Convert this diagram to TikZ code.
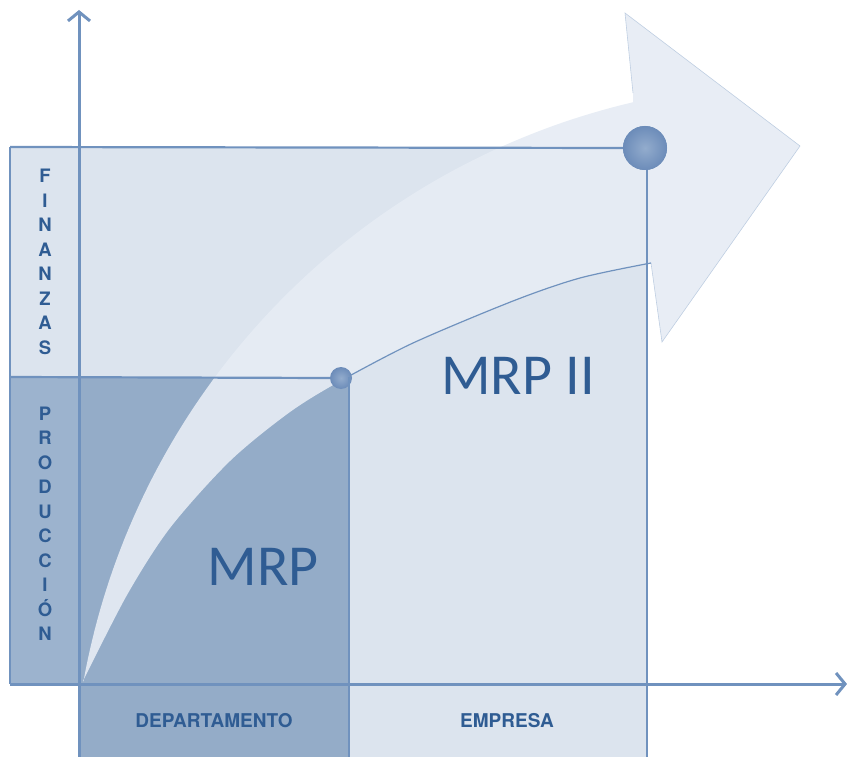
\documentclass[tikz,border=0pt]{standalone}
\usepackage{fontspec}
\newfontfamily\labfont{TeX Gyre Heros}
\newfontfamily\mrpfont{Carlito}
\usetikzlibrary{arrows.meta}
\definecolor{bgl}{HTML}{DCE4EE}
\definecolor{bgd}{HTML}{94ACC8}
\definecolor{bgc}{HTML}{9CB3CE}
\definecolor{ln}{HTML}{7092BE}
\definecolor{txt}{HTML}{2F5C93}
\definecolor{arw}{HTML}{E6ECF4}
\definecolor{dotin}{HTML}{93ACCD}
\definecolor{dotout}{HTML}{6C8CB9}
\begin{document}
\begin{tikzpicture}[x=1pt,y=-1pt,
  axisline/.style={line width=3pt, draw=ln},
  edgeline/.style={line width=2.2pt, draw=ln},
  thinline/.style={line width=1.4pt, draw=ln},
  vlabel/.style={font=\labfont\bfseries\fontsize{18.5}{24.5}\selectfont, text=txt, align=center, inner sep=0pt},
  hlabel/.style={font=\labfont\bfseries\fontsize{19}{22}\selectfont, text=txt, inner sep=0pt},
  biglabel/.style={font=\mrpfont\fontsize{58}{60}\selectfont, text=txt, inner sep=0pt},
  ball/.style={circle, inner sep=0pt, shading=radial, inner color=dotin, outer color=dotout},
]
\useasboundingbox (0,0) rectangle (847,757);
% region fills
\fill[bgl] (10,147) rectangle (647,684);
\fill[bgc] (10,377) rectangle (79,684);
\fill[bgd] (79,377) rectangle (349,684);
\fill[bgd] (79,684) rectangle (349,757);
\fill[bgl] (349,684) rectangle (647,757);
% curved arrow
\fill[arw, fill opacity=0.92]
  plot[smooth, tension=0.5] coordinates {(83,681) (127,595) (170,528) (230,461) (290,412) (342,380) (413,343) (513,301) (580,278) (651,263)}
  -- (662,342) -- (800,146) -- (625,13) -- (633,93)
  -- plot[domain=103.2:169.8, samples=80] ({799+727*cos(\x)},{810-727*sin(\x)})
  -- cycle;
\draw[draw=ln!45, line width=0.6pt] (651,263) -- (662,342) -- (800,146) -- (625,13) -- (633,93);
% lower curve line
\draw[thinline, line width=1.2pt] plot[smooth, tension=0.5] coordinates {(342,380) (413,343) (513,301) (580,278) (651,263)};
% dots
\node[ball, minimum size=22pt] (d1) at (341,378) {};
\node[ball, minimum size=44pt] (d2) at (645,148) {};
\coordinate (tl) at (10,147);
\coordinate (ml) at (10,377);
\coordinate (bl) at (10,684);
\coordinate (xend) at (847,684);
\coordinate (ybot) at (79,757);
\coordinate (ytop) at (79,10);
\coordinate (mrpc) at (349,377);
\coordinate (mrpb) at (349,757);
\coordinate (d2b) at (647,757);
\coordinate (d2t) at (647,160);
% lines
\draw[edgeline] (tl) -- (bl);
\draw[edgeline] (tl) -- (d2.west);
\draw[edgeline] (ml) -- (d1.west);
\draw[edgeline] (mrpc) -- (mrpb);
\draw[edgeline] (d2t) -- (d2b);
\node[ball, minimum size=44pt] at (d2) {};
% axes
\draw[axisline, -{Straight Barb[length=9pt, width=22pt, line width=3pt]}] (ybot) -- (ytop);
\draw[axisline, -{Straight Barb[length=9pt, width=22pt, line width=3pt]}] (bl) -- (xend);
% labels
\node[vlabel] (fin) at (45,262) {F\\I\\N\\A\\N\\Z\\A\\S};
\node[vlabel] (prod) at (45,524) {P\\R\\O\\D\\U\\C\\C\\I\\Ó\\N};
\node[hlabel] (dep) at (214,721) {DEPARTAMENTO};
\node[hlabel] (emp) at (507,721) {EMPRESA};
\node[biglabel] (mrp) at (263,567) {MRP};
\node[biglabel] (mrp2) at (518,376) {MRP II};
\end{tikzpicture}
\end{document}
